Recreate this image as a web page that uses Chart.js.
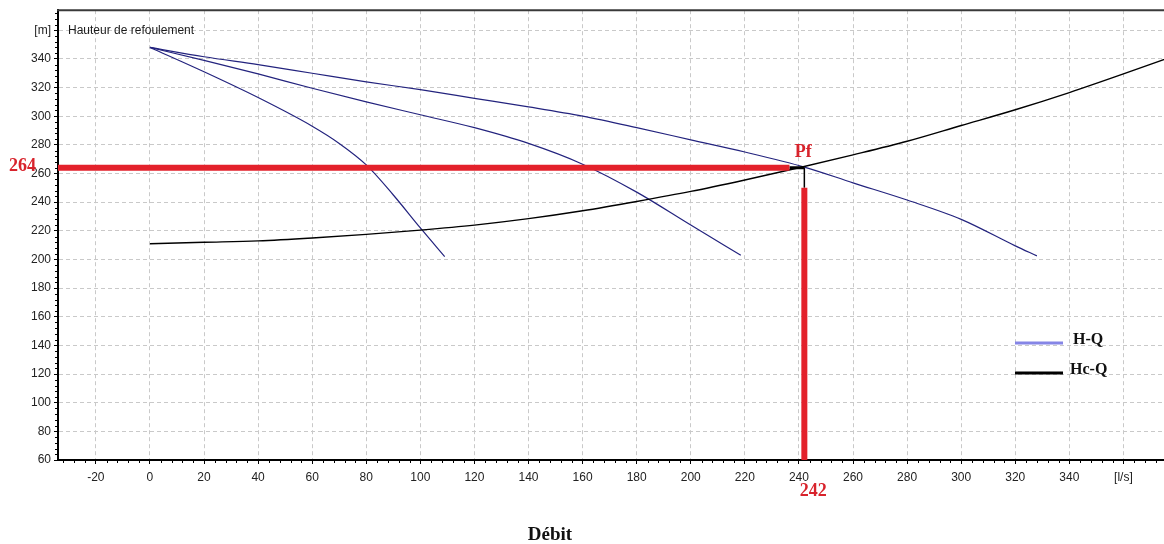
<!DOCTYPE html>
<html>
<head>
<meta charset="utf-8">
<script src="https://cdn.jsdelivr.net/npm/chart.js@4.4.0/dist/chart.umd.min.js"></script>
<style>
  html, body { margin: 0; padding: 0; background: #fff; }
  #wrap { width: 1164px; height: 544px; }
</style>
</head>
<body>
<div id="wrap"><canvas id="chart" width="1164" height="544"></canvas></div>
<script>
// === DATA ===
const xTicks = [-20, 0, 20, 40, 60, 80, 100, 120, 140, 160, 180, 200, 220, 240, 260, 280, 300, 320, 340, 360];
const yTicks = [60, 80, 100, 120, 140, 160, 180, 200, 220, 240, 260, 280, 300, 320, 340, 360];
const xUnit = '[l/s]';
const yUnit = '[m]';
const xMin = -34, xMax = 375;
const yMin = 60, yMax = 374;

// H-Q : 1, 2 et 3 pompes
const q1 = [0, 20, 40, 60, 70, 80, 90, 100, 109];
const h1 = [348, 331, 313, 293, 281, 266, 245, 222, 202];

const q2 = [0, 20, 40, 60, 80, 100, 120, 140, 160, 180, 200, 218.5];
const h2 = [348, 339, 329.5, 319.5, 310, 301, 292, 281, 266.5, 247, 224, 203];

const q3 = [0, 20, 40, 60, 80, 100, 120, 140, 160, 180, 200, 220, 242, 260, 280, 300, 320, 328];
const h3 = [348, 341.5, 336, 330, 324, 318.5, 312.5, 306.5, 300, 292, 283.5, 275, 264.5, 253.5, 241.5, 228, 209.5, 202.5];

// Hc-Q : courbe du réseau
const qc = [0, 20, 40, 60, 80, 100, 120, 140, 160, 180, 200, 220, 240, 260, 280, 300, 320, 340, 360, 380];
const hc = [211, 212, 213, 215, 217.5, 220.5, 224, 228.5, 234, 240.5, 247.5, 255.5, 264, 273, 282.5, 293.5, 304.5, 316.5, 329.5, 343];

// point de fonctionnement
const pfQ = 242;
const pfH = 264;
const redEndQ = 236.5;   // fin du trait rouge horizontal
const redTopH = 250;     // haut du trait rouge vertical
const pfLabels = ['Pf', '264', '242'];

const legendLabels = ['H-Q', 'Hc-Q'];
const legendColors = ['#8585e6', '#000000'];
const curveColor = '#23237e';
const red = '#e3212b';

const pts = (qs, hs) => qs.map((q, i) => ({ x: q, y: hs[i] }));

// === EXTRA DRAWING ===
const extras = {
    id: 'extras',
    afterDraw(chart) {
        const { ctx, chartArea: a, scales: { x, y } } = chart;
        ctx.save();

        // top border
        ctx.strokeStyle = '#3a3a3a';
        ctx.lineWidth = 2;
        ctx.beginPath();
        ctx.moveTo(a.left - 1, a.top);
        ctx.lineTo(a.right, a.top);
        ctx.stroke();

        // minor ticks
        ctx.strokeStyle = '#000';
        ctx.lineWidth = 1;
        ctx.beginPath();
        for (let v = yMin; v <= yMax; v += 4) {
            if (v % 20 === 0) continue;
            const py = Math.round(y.getPixelForValue(v)) + 0.5;
            ctx.moveTo(a.left - 3, py);
            ctx.lineTo(a.left, py);
        }
        for (let v = -32; v <= xMax; v += 4) {
            if (v % 20 === 0) continue;
            const px = Math.round(x.getPixelForValue(v)) + 0.5;
            ctx.moveTo(px, a.bottom);
            ctx.lineTo(px, a.bottom + 3);
        }
        ctx.stroke();

        // axis title
        ctx.fillStyle = '#1a1a1a';
        ctx.font = '12px "Liberation Sans", Arial, sans-serif';
        ctx.textAlign = 'left';
        ctx.textBaseline = 'middle';
        ctx.fillText('Hauteur de refoulement', a.left + 10, y.getPixelForValue(360));

        // red labels
        ctx.fillStyle = '#d8232c';
        ctx.font = 'bold 18px "Liberation Serif", "Times New Roman", serif';
        ctx.textBaseline = 'middle';
        ctx.textAlign = 'left';
        ctx.fillText(pfLabels[1], 9, y.getPixelForValue(pfH) - 1);
        ctx.textAlign = 'center';
        ctx.fillText(pfLabels[0], x.getPixelForValue(pfQ) - 1, y.getPixelForValue(pfH) - 15);
        ctx.fillText(pfLabels[2], x.getPixelForValue(pfQ) + 9, a.bottom + 31);

        // x title
        ctx.fillStyle = '#111';
        ctx.font = 'bold 19px "Liberation Serif", "Times New Roman", serif';
        ctx.fillText('Débit', 550, 535);

        // legend
        const lx = 1015, ly = [343, 373];
        ctx.font = 'bold 16px "Liberation Serif", "Times New Roman", serif';
        ctx.textAlign = 'left';
        legendLabels.forEach((lab, i) => {
            ctx.strokeStyle = legendColors[i];
            ctx.lineWidth = 3;
            ctx.beginPath();
            ctx.moveTo(lx, ly[i]);
            ctx.lineTo(lx + 48, ly[i]);
            ctx.stroke();
            ctx.fillStyle = '#111';
            ctx.fillText(lab, i === 0 ? lx + 58 : lx + 55, ly[i] - 3);
        });

        ctx.restore();
    }
};

const lineDs = (data, color, width) => ({
    data, borderColor: color, borderWidth: width,
    pointRadius: 0, fill: false, cubicInterpolationMode: 'monotone'
});

new Chart(document.getElementById('chart'), {
    type: 'line',
    data: {
        datasets: [
            { ...lineDs([{ x: xMin, y: pfH }, { x: redEndQ, y: pfH }], red, 6), borderCapStyle: 'butt' },
            lineDs([{ x: pfQ, y: redTopH }, { x: pfQ, y: yMin }], red, 6),
            lineDs([{ x: redEndQ, y: pfH }, { x: pfQ, y: pfH }], '#000', 3),
            lineDs([{ x: pfQ, y: pfH }, { x: pfQ, y: redTopH }], '#000', 1.5),
            lineDs(pts(qc, hc), '#000', 1.4),
            lineDs(pts(q1, h1), curveColor, 1.2),
            lineDs(pts(q2, h2), curveColor, 1.2),
            lineDs(pts(q3, h3), curveColor, 1.2)
        ]
    },
    options: {
        responsive: false,
        animation: false,
        layout: { padding: { top: 8, left: 0, right: 0, bottom: 0 } },
        plugins: { legend: { display: false }, tooltip: { enabled: false } },
        scales: {
            x: {
                type: 'linear', min: xMin, max: xMax,
                afterBuildTicks: s => { s.ticks = xTicks.map(v => ({ value: v })); },
                afterFit: s => { s.height = 84; },
                grid: { color: '#c9c9c9', tickColor: '#000', tickLength: 4, lineWidth: 1 },
                border: { color: '#000', width: 2, dash: [4, 3] },
                ticks: {
                    autoSkip: false, maxRotation: 0, padding: 6, color: '#222',
                    font: { family: '"Liberation Sans", Arial, sans-serif', size: 12 },
                    callback: v => v === 360 ? xUnit : v
                }
            },
            y: {
                type: 'linear', min: yMin, max: yMax,
                afterBuildTicks: s => { s.ticks = yTicks.map(v => ({ value: v })); },
                afterFit: s => { s.width = 58; },
                grid: { color: '#c9c9c9', tickColor: '#000', tickLength: 4, lineWidth: 1 },
                border: { color: '#000', width: 2, dash: [4, 3] },
                ticks: {
                    autoSkip: false, padding: 3, color: '#222',
                    font: { family: '"Liberation Sans", Arial, sans-serif', size: 12 },
                    callback: v => v === 360 ? yUnit : v
                }
            }
        }
    },
    plugins: [extras]
});
</script>
</body>
</html>
